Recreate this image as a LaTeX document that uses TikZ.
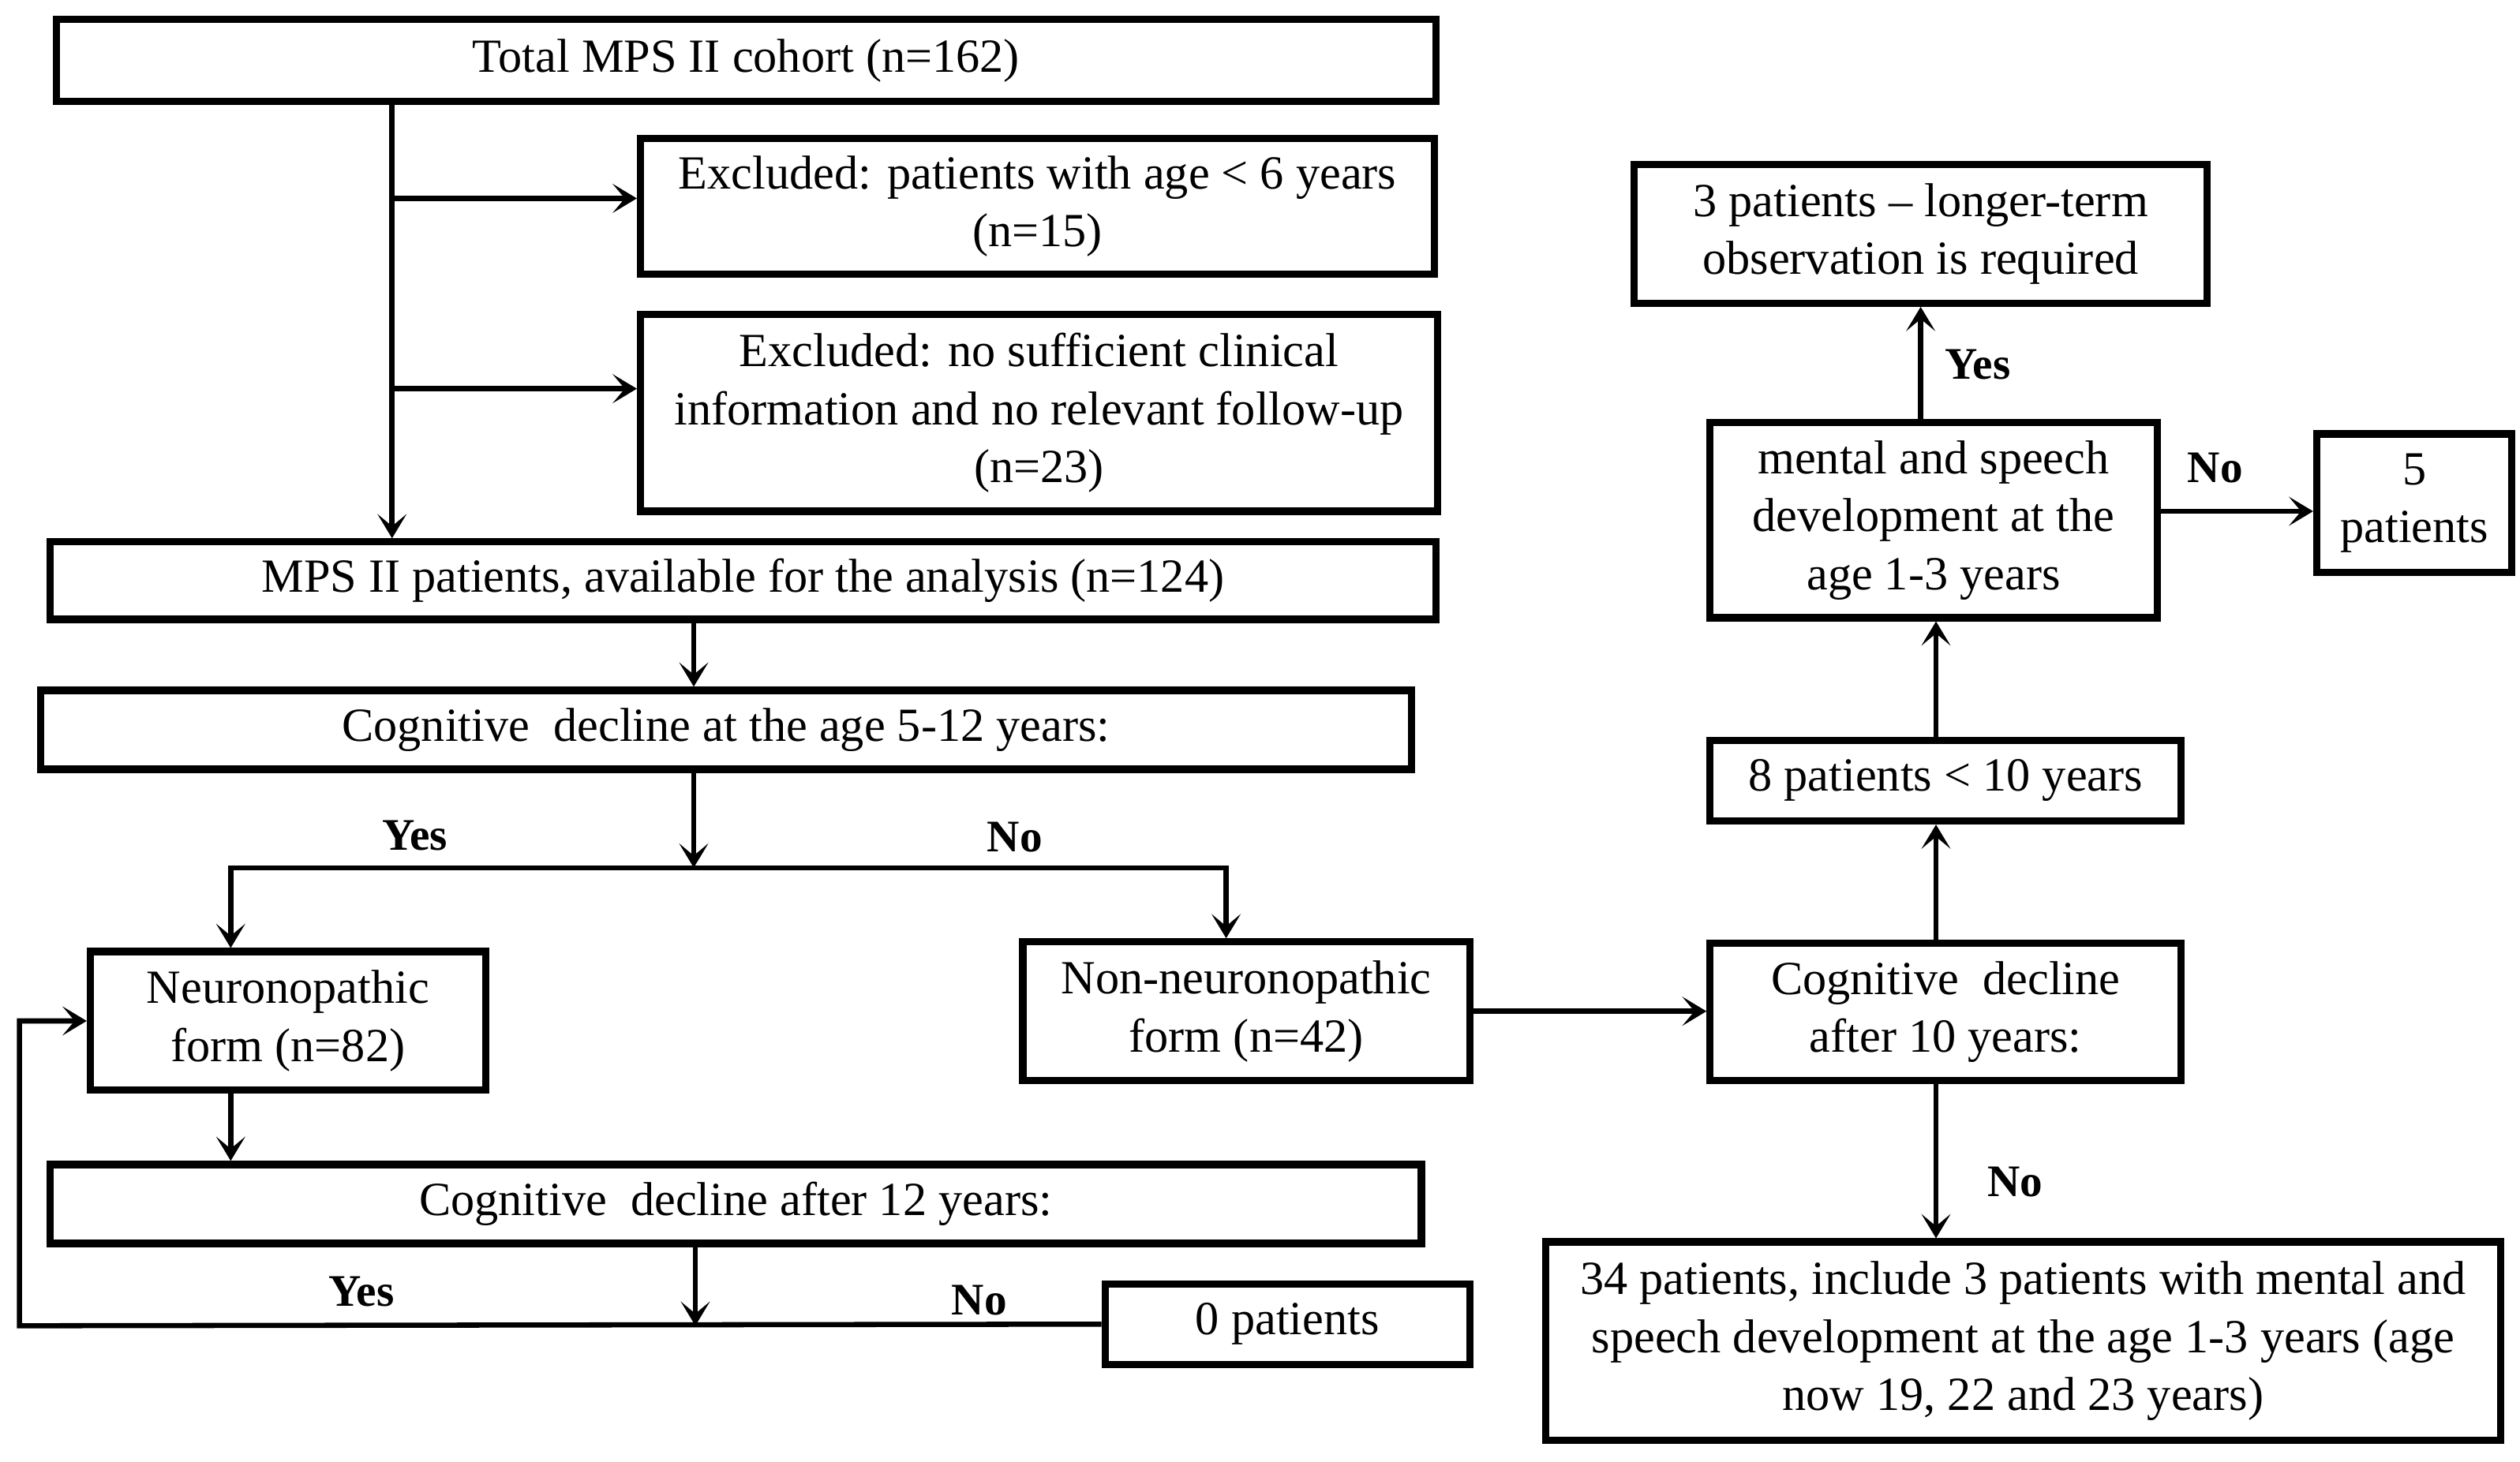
\documentclass[tikz,border=0pt]{standalone}
\usepackage{fontspec}
\setmainfont{Liberation Serif}
\usetikzlibrary{arrows.meta,calc}
\begin{document}
\begin{tikzpicture}[x=1pt,y=1pt,
  box/.style={draw, line width=4.5pt, inner sep=0pt, align=center,
    font=\fontsize{29.5}{36}\selectfont},
  conn/.style={line width=3.2pt},
  arr/.style={conn, -{Stealth[length=15pt,width=18pt,inset=7.5pt]}},
  lbl/.style={font=\fontsize{28}{32}\selectfont\bfseries, inner sep=0pt}]
\useasboundingbox (0,0) rectangle (1562,-906);

\node[box, minimum width=855, minimum height=51] (Total) at (462.5,-37.5) {Total MPS II cohort (n=162)};
\node[box, minimum width=492, minimum height=84] (Excl1) at (643,-128) {Excluded: patients with age < 6 years\\(n=15)};
\node[box, minimum width=494, minimum height=122] (Excl2) at (644,-256) {Excluded: no sufficient clinical\\information and no relevant follow-up\\(n=23)};
\node[box, minimum width=859, minimum height=48] (Avail) at (460.5,-360) {MPS II patients, available for the analysis (n=124)};
\node[box, minimum width=850, minimum height=49] (Cog512) at (450,-452.5) {Cognitive\ \ decline at the age 5-12 years:};
\node[box, minimum width=245, minimum height=86] (Neuro) at (178.5,-633) {Neuronopathic\\form (n=82)};
\node[box, minimum width=277, minimum height=86] (NonNeuro) at (772.5,-627) {Non-neuronopathic\\form (n=42)};
\node[box, minimum width=850, minimum height=49] (Cog12) at (456,-746.5) {Cognitive\ \ decline after 12 years:};
\node[box, minimum width=226, minimum height=50] (Zero) at (798,-821) {0 patients};
\node[box, minimum width=355, minimum height=86] (Three) at (1190.5,-145) {3 patients -- longer-term\\observation is required};
\node[box, minimum width=277, minimum height=121] (Mental) at (1198.5,-322.5) {mental and speech\\development at the\\age 1-3 years};
\node[box, minimum width=121, minimum height=86] (Five) at (1496.5,-312) {5\\patients};
\node[box, minimum width=292, minimum height=50] (Eight) at (1206,-484) {8 patients < 10 years};
\node[box, minimum width=292, minimum height=85] (Cog10) at (1206,-627.5) {Cognitive\ \ decline\\after 10 years:};
\node[box, minimum width=592, minimum height=123] (Thirty) at (1254,-831.5) {34 patients, include 3 patients with mental and\\speech development at the age 1-3 years (age\\now 19, 22 and 23 years)};

% coordinates
\coordinate (tx) at (243,0);
\coordinate (jx) at (430,0);
\coordinate (J1) at (430,-538);
\coordinate (J2) at (431,-822);
\coordinate (L1) at (12,-822);
\coordinate (nx) at (143,0);
\coordinate (ux) at (760,0);
\coordinate (cx) at (1200,0);

% left column
\draw[arr] (Total.south -| tx) -- (Avail.north -| tx);
\draw[arr] (243,-123) -- (Excl1.west |- 0,-123);
\draw[arr] (243,-241) -- (Excl2.west |- 0,-241);
\draw[arr] (Avail.south -| jx) -- (Cog512.north -| jx);
\draw[arr] (Cog512.south -| jx) -- (J1);
\draw[arr] (J1) -| (Neuro.north -| nx);
\draw[arr] (J1) -| (NonNeuro.north -| ux);
\draw[arr] (Neuro.south -| nx) -- (Cog12.north -| nx);
\draw[arr] (Cog12.south -| J2) -- (J2);
\draw[arr] (Zero.west) -- (L1) |- (Neuro.west);

% right column
\draw[arr] (NonNeuro.east) -- (Cog10.west |- NonNeuro.east);
\draw[arr] (Cog10.north -| cx) -- (Eight.south -| cx);
\draw[arr] (Eight.north -| cx) -- (Mental.south -| cx);
\draw[arr] (Mental.north -| Three.south) -- (Three.south);
\draw[arr] (Mental.east |- 0,-317) -- (Five.west |- 0,-317);
\draw[arr] (Cog10.south -| cx) -- (Thirty.north -| cx);

% labels
\node[lbl] (y1) at (257,-518) {Yes};
\node[lbl] (n1) at (629,-519) {No};
\node[lbl] (y2) at (224,-801) {Yes};
\node[lbl] (n2) at (607,-806) {No};
\node[lbl] (y3) at (1226,-226) {Yes};
\node[lbl] (n3) at (1373,-290) {No};
\node[lbl] (n4) at (1249,-733) {No};
\end{tikzpicture}
\end{document}
